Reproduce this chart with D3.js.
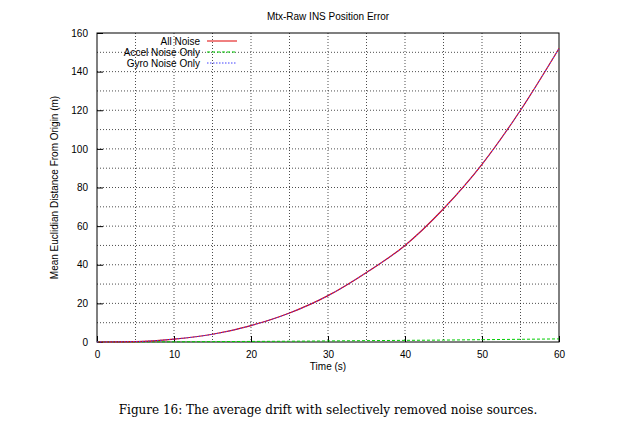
<!DOCTYPE html><html><head><script src="https://cdn.jsdelivr.net/npm/d3@7"></script>
<style>body{margin:0;background:#fff}</style></head><body><svg id="c" width="627" height="426"></svg><script>
const times=[0,5,10,15,20,25,30,35,40,45,50,55,60];
const allNoise=[0,0.2,1.5,4,8.5,15,24,36,50,69,92,120,152];
const gyroNoise=[0,0.2,1.5,4,8.5,15,24,36,50,69,92,120,152];
const accelNoise=[0,0.05,0.1,0.2,0.3,0.4,0.55,0.7,0.85,1,1.2,1.4,1.6];
const xTicks=[0,10,20,30,40,50,60], yTicks=[0,20,40,60,80,100,120,140,160];
const svg=d3.select("#c"), L=97,R=559,T=33,B=342;
const x=d3.scaleLinear([0,60],[L,R]), y=d3.scaleLinear([0,160],[B,T]);
const g=svg.append("g").attr("font-family","Liberation Sans, Arial").attr("font-size",10);
d3.range(5,60,5).forEach(v=>g.append("line").attr("x1",x(v)).attr("x2",x(v)).attr("y1",T).attr("y2",B).attr("stroke","#000").attr("stroke-width",0.7).attr("stroke-dasharray","1,2"));
d3.range(10,160,10).forEach(v=>g.append("line").attr("y1",y(v)).attr("y2",y(v)).attr("x1",L).attr("x2",R).attr("stroke","#000").attr("stroke-width",0.7).attr("stroke-dasharray","1,2"));
g.append("rect").attr("x",L).attr("y",T).attr("width",R-L).attr("height",B-T).attr("fill","none").attr("stroke","#000");
g.append("g").attr("transform",`translate(0,${B})`).call(d3.axisBottom(x).tickValues(xTicks).tickSize(-6).tickPadding(9)).call(a=>a.select(".domain").remove());
g.append("g").attr("transform",`translate(${L},0)`).call(d3.axisLeft(y).tickValues(yTicks).tickSize(-6).tickPadding(9)).call(a=>a.select(".domain").remove());
g.selectAll(".tick text").attr("font-size",10).attr("font-family","Liberation Sans, Arial");
const line=d3.line().x((d,i)=>x(times[i])).y(d=>y(d)).curve(d3.curveMonotoneX);
g.append("path").attr("d",line(accelNoise)).attr("fill","none").attr("stroke","#00cc00").attr("stroke-dasharray","3,2");
g.append("path").attr("d",line(allNoise)).attr("fill","none").attr("stroke","#e00000").attr("stroke-width",1.2);
g.append("path").attr("d",line(gyroNoise)).attr("fill","none").attr("stroke","#4040ff").attr("stroke-dasharray","1.5,1.5");
[["All Noise","#e00000",null],["Accel Noise Only","#00cc00","3,2"],["Gyro Noise Only","#4040ff","1.5,1.5"]].forEach((d,i)=>{
 const yy=41+i*11;
 g.append("text").attr("x",200).attr("y",yy+3.5).attr("text-anchor","end").text(d[0]);
 g.append("line").attr("x1",207).attr("x2",237).attr("y1",yy).attr("y2",yy).attr("stroke",d[1]).attr("stroke-dasharray",d[2]);
});
g.append("text").attr("x",328).attr("y",20).attr("text-anchor","middle").text("Mtx-Raw INS Position Error");
g.append("text").attr("x",328).attr("y",370).attr("text-anchor","middle").text("Time (s)");
g.append("text").attr("transform",`translate(58,${(T+B)/2}) rotate(-90)`).attr("text-anchor","middle").text("Mean Euclidian Distance From Origin (m)");
svg.append("text").attr("x",328).attr("y",414).attr("text-anchor","middle").attr("font-family","DejaVu Serif, Liberation Serif, serif").attr("font-size",12).text("Figure 16: The average drift with selectively removed noise sources.");
</script></body></html>
